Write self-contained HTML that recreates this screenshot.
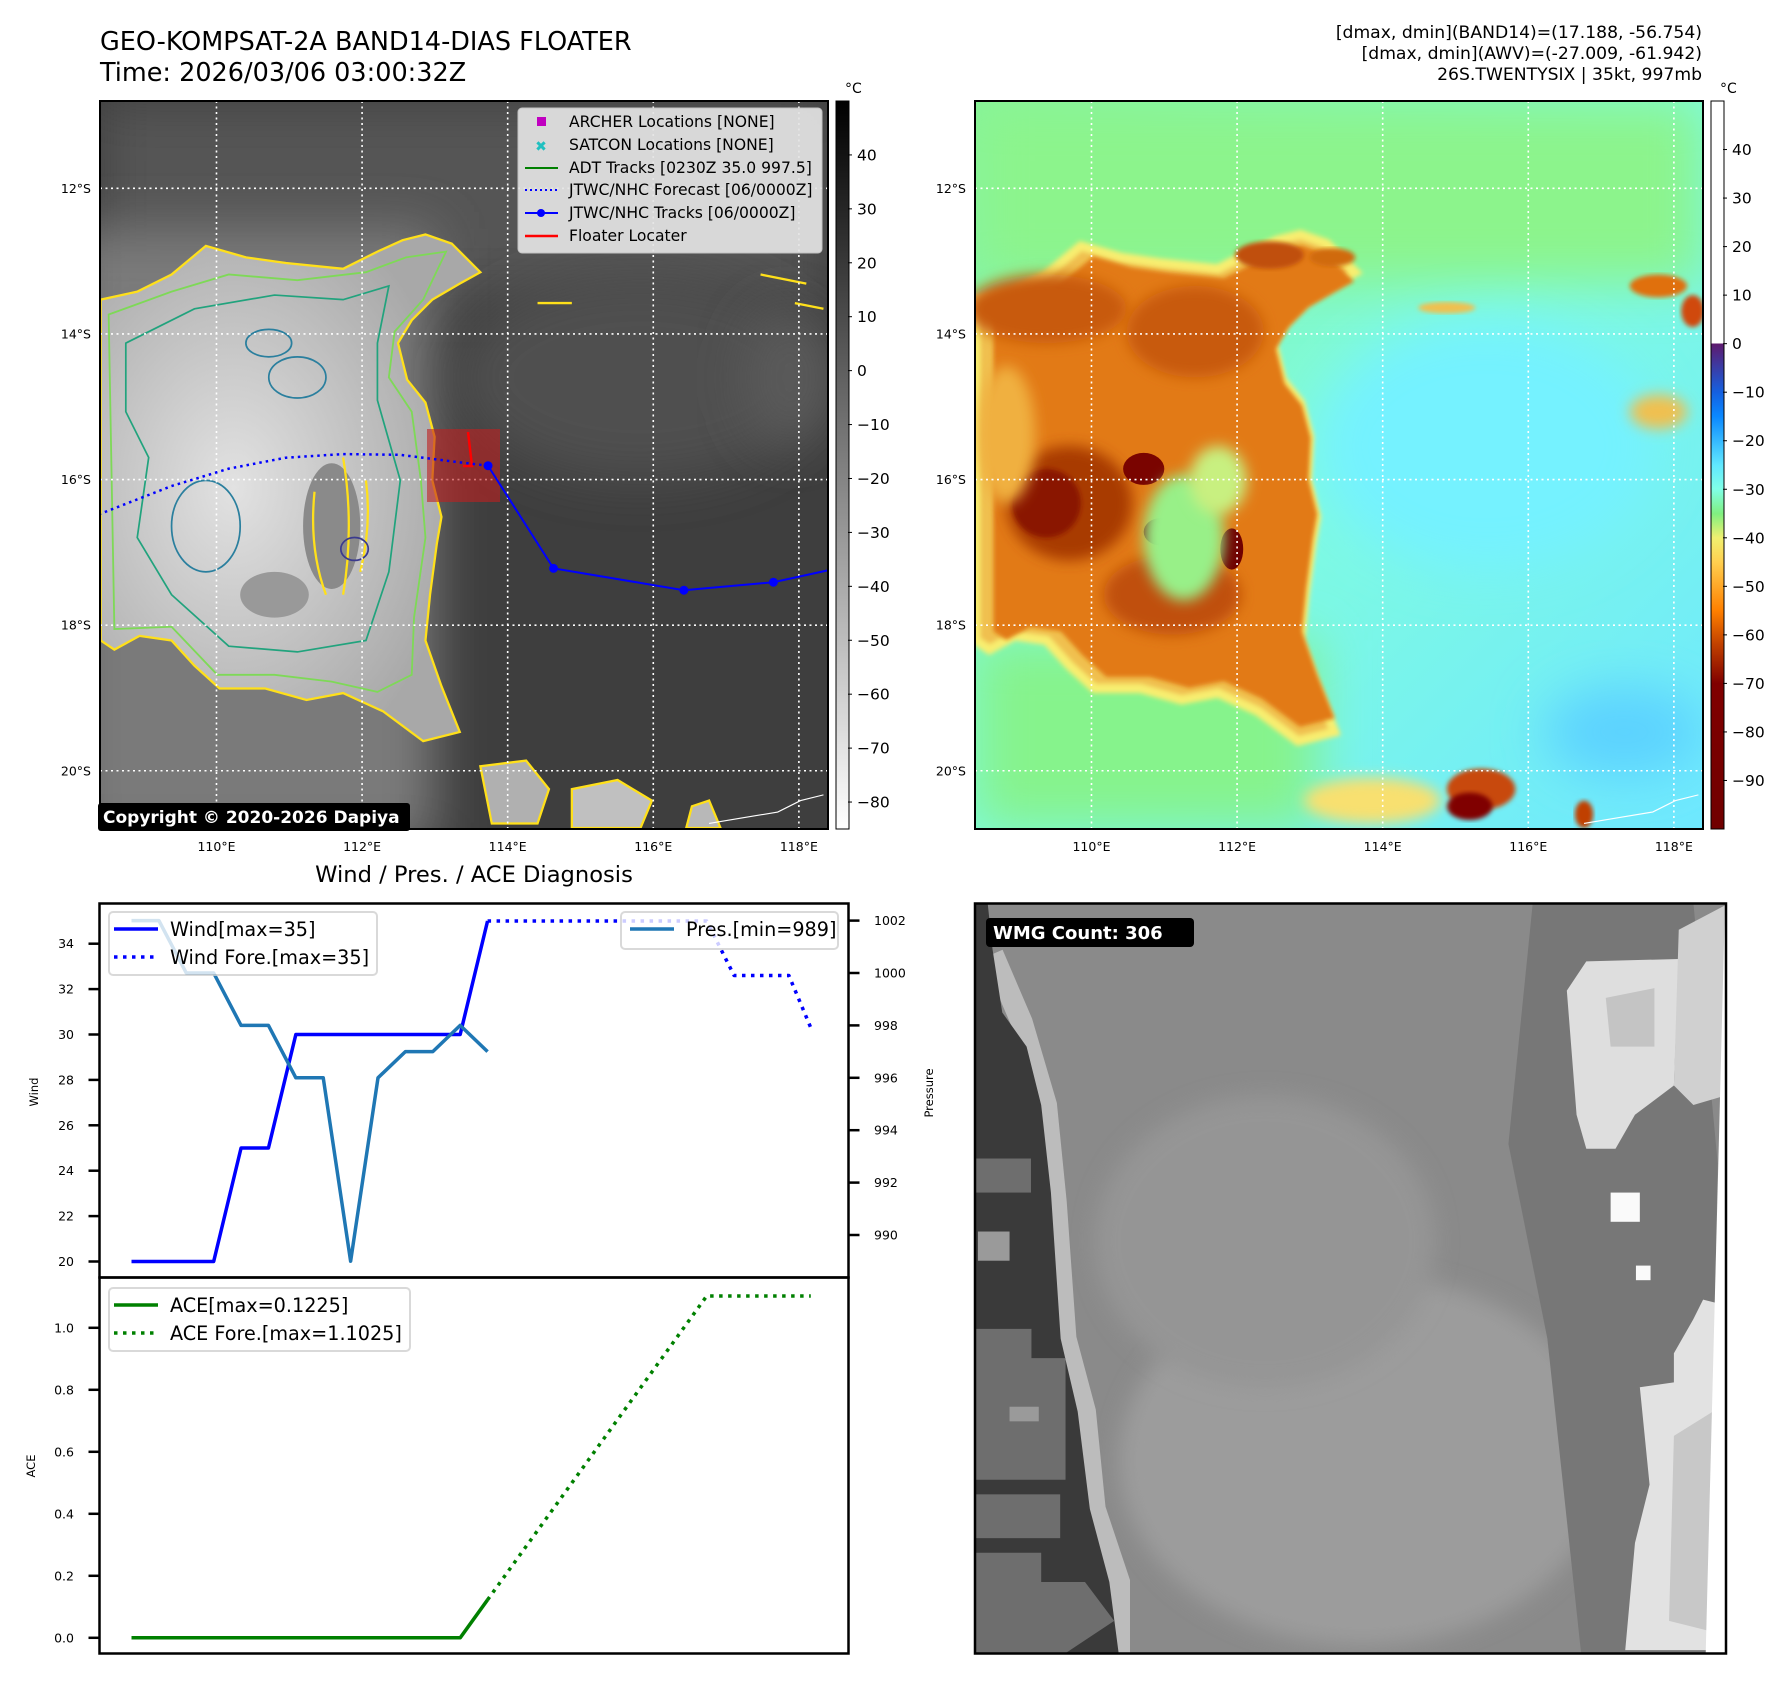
<!DOCTYPE html>
<html><head><meta charset="utf-8"><style>
html,body{margin:0;padding:0;background:#fff;}
svg{display:block;font-family:"DejaVu Sans","Liberation Sans",sans-serif;}
</style></head><body>
<svg id="root" width="1792" height="1690" viewBox="0 0 1792 1690" xmlns="http://www.w3.org/2000/svg">
<defs>
<linearGradient id="cb1" x1="0" y1="0" x2="0" y2="1"><stop offset="0" stop-color="#000"/><stop offset="1" stop-color="#fff"/></linearGradient>
<linearGradient id="cb2" x1="0" y1="0" x2="0" y2="1">
<stop offset="0" stop-color="#fff"/><stop offset="0.333" stop-color="#fff"/><stop offset="0.3334" stop-color="#5e1a6e"/>
<stop offset="0.40" stop-color="#1560e0"/><stop offset="0.433" stop-color="#0a88ff"/><stop offset="0.50" stop-color="#60e8ff"/>
<stop offset="0.533" stop-color="#80ffe8"/><stop offset="0.567" stop-color="#80f080"/><stop offset="0.60" stop-color="#f0f070"/>
<stop offset="0.633" stop-color="#ffd050"/><stop offset="0.70" stop-color="#ff8000"/><stop offset="0.747" stop-color="#c04000"/>
<stop offset="0.80" stop-color="#800000"/><stop offset="1" stop-color="#700000"/></linearGradient>
<linearGradient id="m2bg" x1="0" y1="0" x2="1" y2="1"><stop offset="0" stop-color="#86f39a"/><stop offset="0.5" stop-color="#7ffbe0"/><stop offset="1" stop-color="#6ee8ff"/></linearGradient>
<radialGradient id="m1cl" cx="0.35" cy="0.5" r="0.6"><stop offset="0" stop-color="#e2e2e2"/><stop offset="1" stop-color="#a8a8a8"/></radialGradient>
<filter id="bl" x="-50%" y="-50%" width="200%" height="200%"><feGaussianBlur stdDeviation="6"/></filter>
<filter id="blw" x="-50%" y="-50%" width="200%" height="200%"><feGaussianBlur stdDeviation="22"/></filter>
<filter id="bl2"><feGaussianBlur stdDeviation="2"/></filter>
<clipPath id="c1"><rect x="100" y="101" width="728" height="728"/></clipPath>
<clipPath id="c2"><rect x="975" y="101" width="728" height="728"/></clipPath>
<clipPath id="c3"><rect x="975" y="903" width="751" height="751"/></clipPath>
</defs>

<text x="100" y="50" font-size="25.5">GEO-KOMPSAT-2A BAND14-DIAS FLOATER</text>
<text x="100" y="81" font-size="25.5">Time: 2026/03/06 03:00:32Z</text>
<g font-size="17.2" text-anchor="end">
<text x="1702" y="38">[dmax, dmin](BAND14)=(17.188, -56.754)</text>
<text x="1702" y="59">[dmax, dmin](AWV)=(-27.009, -61.942)</text>
<text x="1702" y="80">26S.TWENTYSIX | 35kt, 997mb</text>
</g>

<g clip-path="url(#c1)">
<rect x="100" y="101" width="728" height="728" fill="#3e3e3e"/>
<g transform="scale(1.1437)">
<rect x="87" y="88" width="637" height="170" fill="#555" filter="url(#blw)"/>
<rect x="60" y="200" width="320" height="540" fill="#7a7a7a" filter="url(#blw)"/>
<ellipse cx="560" cy="330" rx="160" ry="90" fill="#505050" filter="url(#blw)"/>
<ellipse cx="690" cy="330" rx="40" ry="60" fill="#5a5a5a" filter="url(#blw)"/>
<polygon points="88,262 120,255 150,240 180,215 215,225 250,230 300,235 330,220 352,210 372,205 395,213 420,238 402,248 378,262 360,280 348,300 356,332 372,352 380,382 378,420 386,452 382,475 376,520 372,560 386,600 402,640 370,648 335,622 300,606 268,612 232,602 192,602 170,582 150,560 122,556 100,568 88,560" fill="url(#m1cl)" stroke="#ffe01a" stroke-width="2"/>
<polygon points="95,275 150,255 200,240 260,245 320,238 355,225 390,220 370,262 345,290 340,330 360,360 368,420 372,470 362,540 360,590 330,605 290,596 240,590 190,590 150,548 100,550" fill="none" stroke="#7ed957" stroke-width="1.6"/>
<polygon points="110,300 170,270 240,258 300,262 340,250 330,300 330,350 350,420 340,500 320,560 260,570 200,565 150,520 120,470 130,400 110,360" fill="none" stroke="#21a37d" stroke-width="1.5"/>
<ellipse cx="290" cy="460" rx="25" ry="55" fill="#8a8a8a"/>
<ellipse cx="240" cy="520" rx="30" ry="20" fill="#999"/>
<path d="M300,400 q10,60 0,120 M320,420 q5,40 -5,80 M275,430 q-5,50 10,90" stroke="#ffe01a" stroke-width="2" fill="none"/>
<ellipse cx="235" cy="300" rx="20" ry="12" fill="none" stroke="#2a7f9e" stroke-width="1.5"/>
<ellipse cx="180" cy="460" rx="30" ry="40" fill="none" stroke="#2a7f9e" stroke-width="1.5"/>
<ellipse cx="310" cy="480" rx="12" ry="10" fill="none" stroke="#3a3a8e" stroke-width="1.5"/>
<ellipse cx="260" cy="330" rx="25" ry="18" fill="none" stroke="#2a7f9e" stroke-width="1.5"/>
<polygon points="420,670 460,665 480,690 470,720 430,720" fill="#b0b0b0" stroke="#ffe01a" stroke-width="2"/>
<polygon points="500,690 540,682 570,700 560,724 500,724" fill="#c0c0c0" stroke="#ffe01a" stroke-width="2"/>
<polygon points="605,705 620,700 630,724 600,724" fill="#b8b8b8" stroke="#ffe01a" stroke-width="2"/>
<path d="M470,265 l30,0 M665,240 l40,8 M695,265 l25,5" stroke="#ffe01a" stroke-width="2"/>
<path d="M620,720 l30,-5 l30,-5 l20,-10 l20,-5" stroke="#fff" stroke-width="1" fill="none"/>
</g>
<g id="grid1" stroke="#fff" stroke-width="1.6" stroke-dasharray="2 3.5"></g>
<rect x="427" y="429" width="73" height="73" fill="#c02020" opacity="0.6"/>
<path d="M468,432 L472,466 L463,466" stroke="#ff0000" stroke-width="2.5" fill="none"/>
<g id="tracks"></g>
</g>
<rect x="100" y="101" width="728" height="728" fill="none" stroke="#000" stroke-width="2"/>
<g>
<rect x="518" y="108" width="304" height="145" rx="4" fill="#e4e4e4" opacity="0.92" stroke="#ccc"/>
<g font-size="15.6" fill="#000">
<rect x="537" y="117" width="9" height="9" fill="#c000c0"/><text x="569" y="127">ARCHER Locations [NONE]</text>
<text x="541" y="151" font-size="14" font-weight="bold" fill="#20c0c0" text-anchor="middle">✖</text><text x="569" y="150">SATCON Locations [NONE]</text>
<line x1="525" y1="168" x2="558" y2="168" stroke="#008000" stroke-width="2"/><text x="569" y="173">ADT Tracks [0230Z 35.0 997.5]</text>
<line x1="525" y1="190" x2="558" y2="190" stroke="#0000ff" stroke-width="2" stroke-dasharray="2 3"/><text x="569" y="195">JTWC/NHC Forecast [06/0000Z]</text>
<line x1="525" y1="213" x2="558" y2="213" stroke="#0000ff" stroke-width="2"/><circle cx="541" cy="213" r="4" fill="#0000ff"/><text x="569" y="218">JTWC/NHC Tracks [06/0000Z]</text>
<line x1="525" y1="236" x2="558" y2="236" stroke="#ff0000" stroke-width="2.5"/><text x="569" y="241">Floater Locater</text>
</g></g>
<rect x="98" y="803" width="312" height="28" rx="3" fill="#000"/>
<text x="103" y="823" font-size="17" font-weight="bold" fill="#fff">Copyright © 2020-2026 Dapiya</text>
<rect x="836" y="101" width="13" height="728" fill="url(#cb1)" stroke="#000" stroke-width="1"/>
<text x="845" y="93" font-size="14">°C</text>
<g id="cb1ticks" font-size="15.5"></g>
<g id="axes1" font-size="12.5"></g>

<g clip-path="url(#c2)">
<rect x="975" y="101" width="728" height="728" fill="url(#m2bg)"/>
<g transform="scale(1.1437)">
<rect x="852" y="88" width="637" height="160" fill="#8cf48c" filter="url(#blw)"/>
<rect x="852" y="560" width="300" height="165" fill="#86f38c" filter="url(#blw)"/>
<ellipse cx="1300" cy="390" rx="150" ry="110" fill="#74f2ff" filter="url(#blw)"/>
<ellipse cx="1420" cy="640" rx="70" ry="40" fill="#5cd2ff" filter="url(#blw)"/>
<g transform="translate(765,0)">
<polygon points="88,262 120,255 150,240 180,215 215,225 250,230 300,235 330,220 352,210 372,205 395,213 420,238 402,248 378,262 360,280 348,300 356,332 372,352 380,382 378,420 386,452 382,475 376,520 372,560 386,600 402,640 370,648 335,622 300,606 268,612 232,602 192,602 170,582 150,560 122,556 100,568 88,560" fill="#f0c050" stroke="#f8ee70" stroke-width="8" filter="url(#bl2)"/>
<polygon points="88,262 120,255 150,240 180,215 215,225 250,230 300,235 330,220 352,210 372,205 395,213 420,238 402,248 378,262 360,280 348,300 356,332 372,352 380,382 378,420 386,452 382,475 376,520 372,560 386,600 402,640 370,648 335,622 300,606 268,612 232,602 192,602 170,582 150,560 122,556 100,568 88,560" fill="#e27a14" transform="translate(20,20) scale(0.95)" filter="url(#bl2)"/>
<ellipse cx="150" cy="270" rx="70" ry="30" fill="#c85a0a" filter="url(#bl)"/>
<ellipse cx="280" cy="290" rx="60" ry="40" fill="#c85a0a" filter="url(#bl)"/>
<ellipse cx="170" cy="440" rx="55" ry="50" fill="#a83a02" filter="url(#bl)"/>
<ellipse cx="260" cy="520" rx="60" ry="35" fill="#c05008" filter="url(#bl)"/>
<ellipse cx="235" cy="410" rx="18" ry="14" fill="#7a0400"/>
<ellipse cx="250" cy="465" rx="15" ry="12" fill="#7a0400"/>
<ellipse cx="312" cy="480" rx="10" ry="18" fill="#700000"/>
<ellipse cx="150" cy="440" rx="30" ry="30" fill="#8a1200" filter="url(#bl2)"/>
<ellipse cx="270" cy="470" rx="35" ry="55" fill="#98f088" filter="url(#bl)"/>
<ellipse cx="300" cy="420" rx="25" ry="30" fill="#c8f080" filter="url(#bl)"/>
<ellipse cx="115" cy="380" rx="25" ry="60" fill="#f0b040" filter="url(#bl)"/>
<ellipse cx="345" cy="223" rx="30" ry="12" fill="#c05008" filter="url(#bl2)"/>
<ellipse cx="400" cy="225" rx="20" ry="8" fill="#d06a10" filter="url(#bl2)"/>
</g>
<ellipse cx="1295" cy="690" rx="30" ry="18" fill="#c84a08" filter="url(#bl2)"/>
<ellipse cx="1285" cy="705" rx="20" ry="12" fill="#800000" filter="url(#bl2)"/>
<ellipse cx="1200" cy="700" rx="60" ry="20" fill="#f8e070" filter="url(#bl)"/>
<ellipse cx="1450" cy="250" rx="25" ry="10" fill="#e07010" filter="url(#bl2)"/>
<ellipse cx="1480" cy="272" rx="10" ry="14" fill="#d04a08" filter="url(#bl2)"/>
<ellipse cx="1265" cy="269" rx="25" ry="5" fill="#f0c050" filter="url(#bl2)"/>
<ellipse cx="1450" cy="360" rx="25" ry="15" fill="#f0c050" filter="url(#bl)"/>
<ellipse cx="1385" cy="712" rx="8" ry="12" fill="#c04000" filter="url(#bl2)"/>
<path d="M1385,720 l30,-5 l30,-5 l20,-10 l20,-5" stroke="#fff" stroke-width="1" fill="none"/>
</g>
<g id="grid2" stroke="#fff" stroke-width="1.6" stroke-dasharray="2 3.5"></g>
</g>
<rect x="975" y="101" width="728" height="728" fill="none" stroke="#000" stroke-width="2"/>
<rect x="1711" y="101" width="13" height="728" fill="url(#cb2)" stroke="#000" stroke-width="1"/>
<text x="1720" y="93" font-size="14">°C</text>
<g id="cb2ticks" font-size="15.5"></g>
<g id="axes2" font-size="12.5"></g>

<text x="474" y="882" font-size="22.6" text-anchor="middle">Wind / Pres. / ACE Diagnosis</text>
<g id="chart"></g>
<rect x="99.5" y="903.5" width="749" height="374" fill="none" stroke="#000" stroke-width="2.5"/>
<rect x="99.5" y="1277.5" width="749" height="376" fill="none" stroke="#000" stroke-width="2.5"/>
<text transform="translate(38,1092) rotate(-90)" font-size="11.5" text-anchor="middle">Wind</text>
<text transform="translate(933,1093) rotate(-90)" font-size="11.5" text-anchor="middle">Pressure</text>
<text transform="translate(35,1466) rotate(-90)" font-size="11.5" text-anchor="middle">ACE</text>
<g font-size="19.2">
<rect x="109" y="912" width="268" height="63" rx="4" fill="#fff" opacity="0.8" stroke="#d0d0d0" stroke-width="2"/>
<line x1="114" y1="929" x2="158" y2="929" stroke="#0000ff" stroke-width="3.5"/><text x="170" y="936">Wind[max=35]</text>
<line x1="114" y1="957" x2="158" y2="957" stroke="#0000ff" stroke-width="3.5" stroke-dasharray="3.5 5.5"/><text x="170" y="964">Wind Fore.[max=35]</text>
</g>
<g font-size="19.2">
<rect x="621" y="912" width="217" height="37" rx="4" fill="#fff" opacity="0.8" stroke="#d0d0d0" stroke-width="2"/>
<line x1="630" y1="929" x2="674" y2="929" stroke="#1f77b4" stroke-width="3.5"/><text x="686" y="936">Pres.[min=989]</text>
</g>
<g font-size="19.2">
<rect x="109" y="1288" width="301" height="63" rx="4" fill="#fff" opacity="0.8" stroke="#d0d0d0" stroke-width="2"/>
<line x1="114" y1="1305" x2="158" y2="1305" stroke="#008000" stroke-width="3.5"/><text x="170" y="1312">ACE[max=0.1225]</text>
<line x1="114" y1="1333" x2="158" y2="1333" stroke="#008000" stroke-width="3.5" stroke-dasharray="3.5 5.5"/><text x="170" y="1340">ACE Fore.[max=1.1025]</text>
</g>

<g clip-path="url(#c3)">
<rect x="975" y="903" width="751" height="751" fill="#8a8a8a"/>
<g transform="translate(975,903) scale(0.4867) translate(-4,-5)">
<ellipse cx="800" cy="1150" rx="500" ry="380" fill="#9c9c9c" filter="url(#blw)"/>
<ellipse cx="600" cy="700" rx="350" ry="300" fill="#959595" filter="url(#blw)"/>
<polygon points="1150,5 1480,5 1530,540 1510,1553 1250,1553 1180,900 1100,500" fill="#777"/>
<polyline points="40,110 100,250 150,420 170,620 190,900 230,1050 250,1250 300,1400 300,1553" fill="none" stroke="#bcbcbc" stroke-width="45"/>
<polygon points="4,5 30,5 40,100 60,230 110,300 140,420 160,600 180,900 215,1050 240,1250 280,1400 300,1553 4,1553" fill="#3a3a3a"/>
<rect x="4" y="530" width="115" height="70" fill="#6e6e6e"/>
<rect x="10" y="680" width="65" height="60" fill="#9a9a9a"/>
<polygon points="4,880 120,880 120,940 190,940 190,1190 4,1190" fill="#6e6e6e"/>
<rect x="75" y="1040" width="60" height="30" fill="#9a9a9a"/>
<rect x="4" y="1220" width="175" height="90" fill="#6e6e6e"/>
<polygon points="4,1340 140,1340 140,1400 230,1400 290,1480 180,1553 4,1553" fill="#6e6e6e"/>
<polygon points="1220,185 1260,125 1450,120 1440,380 1360,440 1320,510 1260,510 1240,440" fill="#dedede"/>
<polygon points="1300,200 1400,180 1400,300 1310,300" fill="#c4c4c4"/>
<polygon points="1450,60 1545,10 1548,400 1480,420 1440,380" fill="#d0d0d0"/>
<polygon points="1500,820 1540,830 1520,1540 1340,1540 1360,1320 1390,1200 1370,1000 1440,990 1440,930 1480,860" fill="#e2e2e2"/>
<polygon points="1440,1100 1520,1050 1510,1500 1430,1480" fill="#c8c8c8"/>
<rect x="1310" y="600" width="60" height="60" fill="#fafafa"/>
<rect x="1362" y="750" width="30" height="30" fill="#fafafa"/>
<polygon points="1545,5 1560,5 1560,1560 1505,1560" fill="#fff"/>
</g>
</g>
<rect x="975" y="903.5" width="751" height="750" fill="none" stroke="#000" stroke-width="2.5"/>
<rect x="986" y="918" width="208" height="29" rx="4" fill="#000"/>
<text x="993" y="939" font-size="18" font-weight="bold" fill="#fff">WMG Count: 306</text>
</svg>

<script>
const latTicks = [12, 14, 16, 18, 20];
const lonTicks = [110, 112, 114, 116, 118];
const trackLon = [113.73, 114.63, 116.42, 117.65, 119.3];
const trackLat = [-15.81, -17.22, -17.52, -17.41, -17.05];
const foreLon = [113.73, 113.31, 112.52, 111.74, 110.95, 110.17, 109.38, 108.2];
const foreLat = [-15.81, -15.76, -15.66, -15.65, -15.70, -15.85, -16.09, -16.55];
const cb1Ticks = [40, 30, 20, 10, 0, -10, -20, -30, -40, -50, -60, -70, -80];
const cb2Ticks = [40, 30, 20, 10, 0, -10, -20, -30, -40, -50, -60, -70, -80, -90];
const obsIdx = [0,1,2,3,4,5,6,7,8,9,10,11,12,13];
const windVals = [20,20,20,20,25,25,30,30,30,30,30,30,30,35];
const presVals = [1002,1002,1000,1000,998,998,996,996,989,996,997,997,998,997];
const aceVals = [0,0,0,0,0,0,0,0,0,0,0,0,0,0.1225];
const foreIdx = [13,21,22,24,24.8];
const windFore = [35,35,32.6,32.6,30.3];
const aceForeIdx = [13,21,24.8];
const aceFore = [0.1225,1.1025,1.1025];
const windTicks = [20,22,24,26,28,30,32,34];
const presTicks = [990,992,994,996,998,1000,1002];
const aceTicks = [0,0.2,0.4,0.6,0.8,1.0];

const NS = 'http://www.w3.org/2000/svg';
function mk(tag, attrs, parent) { const e = document.createElementNS(NS, tag); for (const k in attrs) e.setAttribute(k, attrs[k]); parent.appendChild(e); return e; }
const PPD = 72.8;
function lonX(lon, x0) { return x0 + (lon - 108.4) * PPD; }
function latY(lat) { return 101 + (-10.8 - lat) * PPD; }

function drawGrid(gid, axid, x0) {
  const g = document.getElementById(gid), ax = document.getElementById(axid);
  latTicks.forEach(t => {
    const y = latY(-t);
    const l = mk('line', {x1: x0, x2: x0 + 728, y1: y, y2: y}, g);
    
    
    const tx = mk('text', {x: x0 - 9, y: y + 4.5, 'text-anchor': 'end'}, ax);
    tx.textContent = t + '°S';
    
    
  });
  lonTicks.forEach(t => {
    const x = lonX(t, x0);
    const l = mk('line', {x1: x, x2: x, y1: 101, y2: 829}, g);
    
    
    const tx = mk('text', {x: x, y: 851, 'text-anchor': 'middle'}, ax);
    tx.textContent = t + '°E';
    
    
  });
}
drawGrid('grid1', 'axes1', 100);
drawGrid('grid2', 'axes2', 975);

function drawCb(gid, ticks, x, vmax, vmin) {
  const g = document.getElementById(gid);
  ticks.forEach(v => {
    const y = 101 + (vmax - v) / (vmax - vmin) * 728;
    mk('line', {x1: x - 1, x2: x + 3, y1: y, y2: y, stroke: '#000'}, g);
    const t = mk('text', {x: x + 8, y: y + 5.5}, g);
    t.textContent = v < 0 ? '\u2212' + (-v) : String(v);
    
    
  });
}
drawCb('cb1ticks', cb1Ticks, 849, 50, -85);
drawCb('cb2ticks', cb2Ticks, 1724, 50, -100);

const tr = document.getElementById('tracks');
const fp = mk('polyline', {points: foreLon.map((l, i) => lonX(l, 100) + ',' + latY(foreLat[i])).join(' '), fill: 'none', stroke: '#0000ff', 'stroke-width': 2.5, 'stroke-dasharray': '2.5 4'}, tr);


const tp = mk('polyline', {points: trackLon.map((l, i) => lonX(l, 100) + ',' + latY(trackLat[i])).join(' '), fill: 'none', stroke: '#0000ff', 'stroke-width': 2}, tr);


trackLon.forEach((l, i) => {
  const c = mk('circle', {cx: lonX(l, 100), cy: latY(trackLat[i]), r: 4.5, fill: '#0000ff'}, tr);
  
  
});

const ch = document.getElementById('chart');
function xI(i) { return 131.5 + i * 27.39; }
function yW(v) { return 1261.5 - (v - 20) * 22.7; }
function yP(p) { return 1235 - (p - 990) * 26.2; }
function yA(a) { return 1637.8 - a * 310; }
function line(idx, vals, yf, color, dashed, name) {
  const p = mk('polyline', {points: idx.map((i, k) => xI(i) + ',' + yf(vals[k])).join(' '), fill: 'none', stroke: color, 'stroke-width': 3.5, 'stroke-linejoin': 'round'}, ch);
  if (dashed) p.setAttribute('stroke-dasharray', '3.5 5.5');
  
  
}
line(obsIdx, windVals, yW, '#0000ff', false, 'wind-line');
line(foreIdx, windFore, yW, '#0000ff', true, 'wind-forecast-line');
line(obsIdx, presVals, yP, '#1f77b4', false, 'pressure-line');
line(obsIdx, aceVals, yA, '#008000', false, 'ace-line');
line(aceForeIdx, aceFore, yA, '#008000', true, 'ace-forecast-line');
function ticks(list, yf, side, fmt) {
  list.forEach(v => {
    const y = yf(v);
    const x = side === 'l' ? 99.5 : 848.5;
    mk('line', {x1: x, x2: side === 'l' ? x - 11 : x + 11, y1: y, y2: y, stroke: '#000', 'stroke-width': 2.5}, ch);
    const t = mk('text', {x: side === 'l' ? 74 : 874, y: y + 4.5, 'font-size': 12.5, 'text-anchor': side === 'l' ? 'end' : 'start'}, ch);
    t.textContent = fmt(v);
    
    
  });
}
ticks(windTicks, yW, 'l', v => String(v));
ticks(presTicks, yP, 'r', v => String(v));
ticks(aceTicks, yA, 'l', v => v.toFixed(1));
</script>
</body></html>
